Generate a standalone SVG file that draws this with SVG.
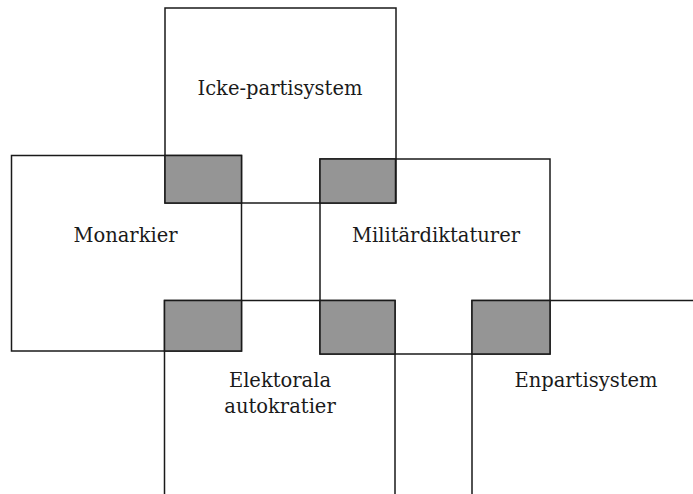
<svg xmlns="http://www.w3.org/2000/svg" width="693" height="494" viewBox="0 0 693 494">
<style>
.box{fill:none;stroke:#1a1a1a;stroke-width:1.5}
.ov{fill:#959595;stroke:#1a1a1a;stroke-width:1.5}
.lbl{font-family:"DejaVu Serif","Liberation Serif",serif;font-size:19.5px;fill:#1a1a1a;text-anchor:middle}
</style>
<rect width="693" height="494" fill="#fff"/>
<g id="icke-partisystem">
<rect class="box" x="165" y="8" width="231" height="195"/>
<text class="lbl" x="280" y="95">Icke-partisystem</text>
</g>
<g id="monarkier">
<rect class="box" x="11.5" y="155.5" width="230" height="195.5"/>
<text class="lbl" x="125.5" y="242">Monarkier</text>
</g>
<g id="militardiktaturer">
<rect class="box" x="320" y="159" width="230" height="195"/>
<text class="lbl" x="436" y="242">Militärdiktaturer</text>
</g>
<g id="elektorala-autokratier">
<path class="box" d="M164.5,494 V300.5 H395 V494"/>
<text class="lbl" x="280" y="387">Elektorala</text>
<text class="lbl" x="280" y="413">autokratier</text>
</g>
<g id="enpartisystem">
<path class="box" d="M472,494 V300.5 H693"/>
<text class="lbl" x="586" y="387">Enpartisystem</text>
</g>
<g id="overlaps">
<rect class="ov" x="165" y="155.5" width="76.5" height="47.5"/>
<rect class="ov" x="320" y="159" width="75.5" height="44"/>
<rect class="ov" x="164.5" y="300.5" width="77" height="50.5"/>
<rect class="ov" x="320" y="300.5" width="75" height="53.5"/>
<rect class="ov" x="472" y="300.5" width="78" height="53.5"/>
</g>
</svg>
